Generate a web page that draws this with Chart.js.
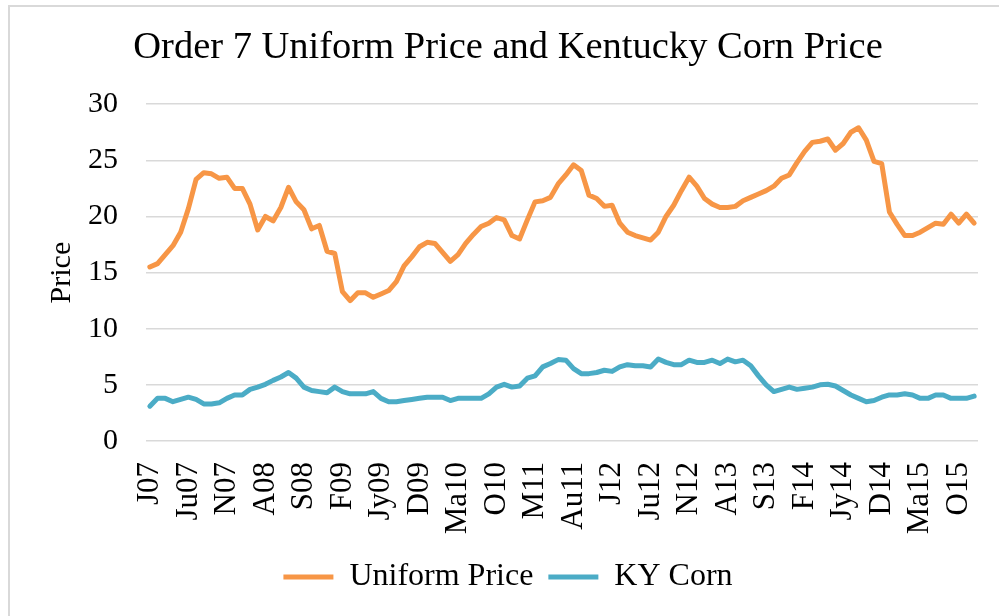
<!DOCTYPE html>
<html>
<head>
<meta charset="utf-8">
<title>Order 7 Uniform Price and Kentucky Corn Price</title>
<script src="https://cdn.jsdelivr.net/npm/chart.js@4/dist/chart.umd.min.js"></script>
<style>
  html, body { margin: 0; padding: 0; background: #fff; overflow: hidden; }
  #frame { position: absolute; left: 8px; top: 5px; width: 1200px; height: 800px;
           border-left: 2px solid #d9d9d9; border-top: 2px solid #d9d9d9; }
  #priceChart { position: absolute; left: 0; top: 0; }
</style>
</head>
<body>
<div id="frame"></div>
<canvas id="priceChart" width="999" height="616"></canvas>
<script>
  // monthly, Jan 2007 .. Dec 2015
  var months = [
    'J07', 'F07', 'M07', 'A07', 'Ma07', 'Ju07', 'Jy07', 'Au07', 'S07', 'O07', 'N07', 'D07',
    'J08', 'F08', 'M08', 'A08', 'Ma08', 'Ju08', 'Jy08', 'Au08', 'S08', 'O08', 'N08', 'D08',
    'J09', 'F09', 'M09', 'A09', 'Ma09', 'Ju09', 'Jy09', 'Au09', 'S09', 'O09', 'N09', 'D09',
    'J10', 'F10', 'M10', 'A10', 'Ma10', 'Ju10', 'Jy10', 'Au10', 'S10', 'O10', 'N10', 'D10',
    'J11', 'F11', 'M11', 'A11', 'Ma11', 'Ju11', 'Jy11', 'Au11', 'S11', 'O11', 'N11', 'D11',
    'J12', 'F12', 'M12', 'A12', 'Ma12', 'Ju12', 'Jy12', 'Au12', 'S12', 'O12', 'N12', 'D12',
    'J13', 'F13', 'M13', 'A13', 'Ma13', 'Ju13', 'Jy13', 'Au13', 'S13', 'O13', 'N13', 'D13',
    'J14', 'F14', 'M14', 'A14', 'Ma14', 'Ju14', 'Jy14', 'Au14', 'S14', 'O14', 'N14', 'D14',
    'J15', 'F15', 'M15', 'A15', 'Ma15', 'Ju15', 'Jy15', 'Au15', 'S15', 'O15', 'N15', 'D15'
  ];

  var uniformPrice = [
    15.5, 15.8, 16.6, 17.4, 18.6, 20.7, 23.3, 23.9, 23.8, 23.4,
    23.5, 22.5, 22.5, 21.1, 18.8, 20.0, 19.6, 20.8, 22.6, 21.3,
    20.6, 18.9, 19.2, 16.9, 16.7, 13.3, 12.5, 13.2, 13.2, 12.8,
    13.1, 13.4, 14.2, 15.6, 16.4, 17.3, 17.7, 17.6, 16.8, 16.0,
    16.6, 17.6, 18.4, 19.1, 19.4, 19.9, 19.7, 18.3, 18.0, 19.7,
    21.3, 21.4, 21.7, 22.9, 23.7, 24.6, 24.1, 21.9, 21.6, 20.9,
    21.0, 19.4, 18.6, 18.3, 18.1, 17.9, 18.6, 20.0, 21.0, 22.3,
    23.5, 22.7, 21.6, 21.1, 20.8, 20.8, 20.9, 21.4, 21.7, 22.0,
    22.3, 22.7, 23.4, 23.7, 24.8, 25.8, 26.6, 26.7, 26.9, 25.9,
    26.5, 27.5, 27.9, 26.8, 24.9, 24.7, 20.4, 19.3, 18.3, 18.3,
    18.6, 19.0, 19.4, 19.3, 20.2, 19.4, 20.2, 19.4
  ];

  var kyCorn = [
    3.1, 3.8, 3.8, 3.5, 3.7, 3.9, 3.7, 3.3, 3.3, 3.4,
    3.8, 4.1, 4.1, 4.6, 4.8, 5.05, 5.4, 5.7, 6.1, 5.6,
    4.8, 4.5, 4.4, 4.3, 4.8, 4.4, 4.2, 4.2, 4.2, 4.4,
    3.8, 3.5, 3.5, 3.6, 3.7, 3.8, 3.9, 3.9, 3.9, 3.6,
    3.8, 3.8, 3.8, 3.8, 4.2, 4.8, 5.05, 4.8, 4.9, 5.6,
    5.8, 6.6, 6.9, 7.25, 7.2, 6.45, 6.0, 6.0, 6.1, 6.3,
    6.2, 6.6, 6.8, 6.7, 6.7, 6.6, 7.3, 7.0, 6.8, 6.8,
    7.2, 7.0, 7.0, 7.2, 6.9, 7.3, 7.05, 7.2, 6.7, 5.8,
    5.0, 4.4, 4.6, 4.8, 4.6, 4.7, 4.8, 5.0, 5.05, 4.9,
    4.5, 4.1, 3.8, 3.5, 3.6, 3.9, 4.1, 4.1, 4.2, 4.1,
    3.8, 3.8, 4.1, 4.1, 3.8, 3.8, 3.8, 4.0
  ];

  var yTicks = [0, 5, 10, 15, 20, 25, 30];
  var labelEvery = 5;

  var FONT = 'Liberation Serif, Times New Roman, serif';
  Chart.defaults.font.family = FONT;
  Chart.defaults.color = '#000';

  var gridColor = '#d9d9d9';

  function lineSet(label, values, color) {
    return {
      label: label,
      data: values,
      borderColor: color,
      backgroundColor: color,
      borderWidth: 5,
      pointRadius: 0,
      tension: 0,
      borderJoinStyle: 'round',
      borderCapStyle: 'round',
      fill: false
    };
  }

  var ctx = document.getElementById('priceChart').getContext('2d');
  new Chart(ctx, {
    type: 'line',
    data: {
      labels: months,
      datasets: [
        lineSet('Uniform Price', uniformPrice, '#f79646'),
        lineSet('KY Corn', kyCorn, '#4bacc6')
      ]
    },
    options: {
      responsive: false,
      animation: false,
      layout: { padding: { left: 38, right: 21, top: 0, bottom: 13 } },
      plugins: {
        title: {
          display: true,
          text: 'Order 7 Uniform Price and Kentucky Corn Price',
          font: { size: 38.5, weight: 'normal' },
          padding: { top: 25, bottom: 33 }
        },
        legend: {
          position: 'bottom',
          labels: {
            font: { size: 32 },
            usePointStyle: true,
            pointStyle: 'line',
            pointStyleWidth: 50,
            padding: 15
          }
        },
        tooltip: { enabled: false }
      },
      scales: {
        x: {
          type: 'category',
          offset: true,
          grid: { display: false, drawTicks: false },
          border: { display: false },
          ticks: {
            autoSkip: false,
            minRotation: 90,
            maxRotation: 90,
            padding: 21,
            font: { size: 31 },
            callback: function (val, i) {
              return i % labelEvery === 0 ? months[i] : '';
            }
          },
          afterFit: function (scale) {
            scale.height = 105;
            scale.paddingLeft = 0;
            scale.paddingRight = 0;
          }
        },
        y: {
          min: yTicks[0],
          max: yTicks[yTicks.length - 1],
          grid: { color: gridColor, lineWidth: 1.5, drawTicks: false },
          border: { display: false },
          ticks: { stepSize: 5, padding: 28, font: { size: 30 } },
          title: {
            display: true,
            text: 'Price',
            font: { size: 30 },
            padding: { top: 6, bottom: 8 }
          },
          afterFit: function (scale) { scale.width = 108; }
        }
      }
    }
  });
</script>
</body>
</html>
